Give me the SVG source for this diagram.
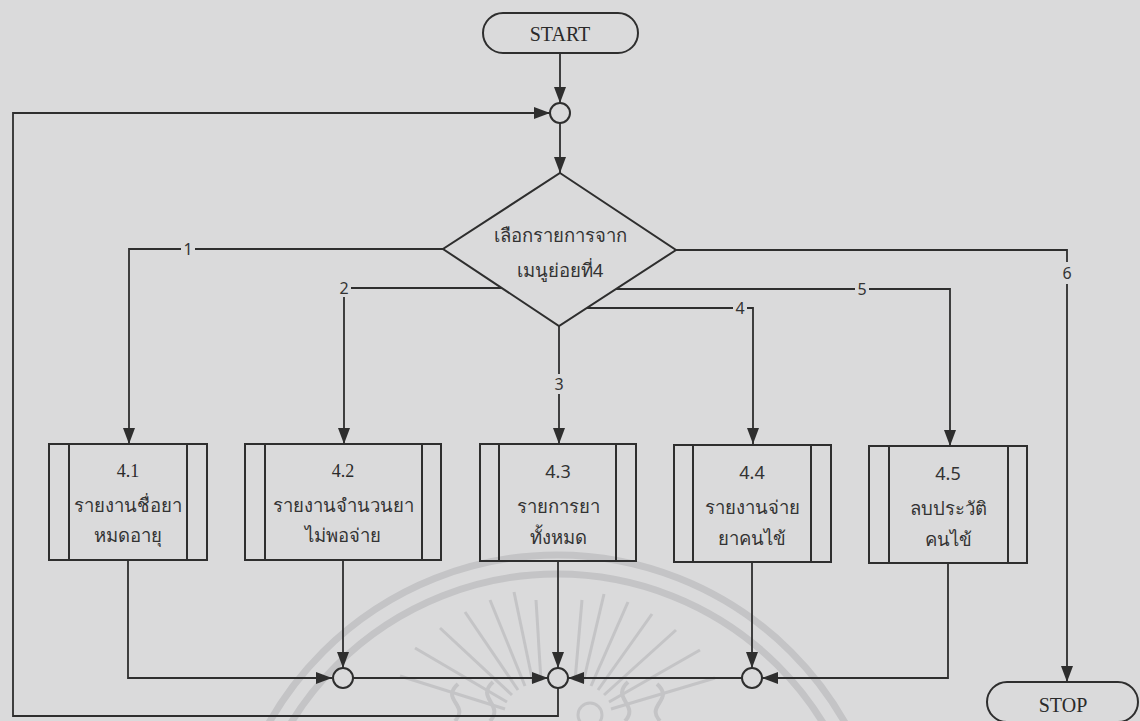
<svg xmlns="http://www.w3.org/2000/svg" width="1140" height="721" viewBox="0 0 1140 721">
  <style>
    .bg { fill: #dadadb; }
    .ln { fill: none; stroke: #2e2e2e; stroke-width: 1.8; }
    .shape { fill: none; stroke: #2e2e2e; stroke-width: 2; }
    .serif { font-family: "Liberation Serif", "Times New Roman", serif; fill: #2a2a2a; }
    .sans { font-family: "Noto Sans", "DejaVu Sans", sans-serif; fill: #333333; }
    .th { font-size: 18.5px; text-anchor: middle; }
    .num { font-size: 18px; text-anchor: middle; }
    .lbl { font-size: 16px; text-anchor: middle; }
    .wm { fill: none; stroke: #c4c4c6; }
  </style>
  <defs>
    <marker id="arrow" markerUnits="userSpaceOnUse" markerWidth="16" markerHeight="12" refX="16" refY="6" orient="auto">
      <path d="M0,0 L16,6 L0,12 z" fill="#2e2e2e"/>
    </marker>
  </defs>

  <rect class="bg" x="0" y="0" width="1140" height="721"/>

  <!-- faint seal in the background -->
  <g id="watermark">
    <circle class="wm" cx="557" cy="886" r="331" stroke-width="7"/>
    <circle class="wm" cx="557" cy="886" r="312" stroke-width="7"/>
    <g stroke-width="3">
      <line class="wm" x1="505" y1="709" x2="400" y2="676"/>
      <line class="wm" x1="507" y1="702" x2="415" y2="648"/>
      <line class="wm" x1="512" y1="695" x2="440" y2="628"/>
      <line class="wm" x1="518" y1="690" x2="465" y2="612"/>
      <line class="wm" x1="525" y1="686" x2="490" y2="600"/>
      <line class="wm" x1="533" y1="683" x2="514" y2="592"/>
      <line class="wm" x1="541" y1="681" x2="536" y2="600"/>
      <line class="wm" x1="575" y1="681" x2="582" y2="600"/>
      <line class="wm" x1="583" y1="683" x2="604" y2="594"/>
      <line class="wm" x1="591" y1="686" x2="628" y2="602"/>
      <line class="wm" x1="598" y1="690" x2="652" y2="614"/>
      <line class="wm" x1="604" y1="695" x2="676" y2="630"/>
      <line class="wm" x1="609" y1="702" x2="700" y2="650"/>
      <line class="wm" x1="611" y1="709" x2="715" y2="678"/>
      <path class="wm" d="M455,721 C470,705 440,700 458,684 M490,721 C505,705 475,698 493,682" stroke-width="4"/>
      <path class="wm" d="M660,721 C645,705 675,700 657,684 M625,721 C640,705 610,698 628,682" stroke-width="4"/>
      <circle class="wm" cx="590" cy="715" r="12"/>
    </g>
  </g>

  <!-- connectors -->
  <g id="connectors">
    <line class="ln" x1="560" y1="53" x2="560" y2="103" marker-end="url(#arrow)"/>
    <line class="ln" x1="560" y1="123" x2="560" y2="173" marker-end="url(#arrow)"/>

    <polyline class="ln" points="443,249 129,249 129,444" marker-end="url(#arrow)"/>
    <polyline class="ln" points="502,288 344,288 344,444" marker-end="url(#arrow)"/>
    <line class="ln" x1="559" y1="326" x2="559" y2="444" marker-end="url(#arrow)"/>
    <polyline class="ln" points="587,308 753,308 753,444" marker-end="url(#arrow)"/>
    <polyline class="ln" points="616,289 950,289 950,446" marker-end="url(#arrow)"/>
    <polyline class="ln" points="676,250 1067,250 1067,682" marker-end="url(#arrow)"/>

    <polyline class="ln" points="128,560 128,678 332,678" marker-end="url(#arrow)"/>
    <line class="ln" x1="343" y1="560" x2="343" y2="668" marker-end="url(#arrow)"/>
    <line class="ln" x1="353" y1="678" x2="548" y2="678" marker-end="url(#arrow)"/>
    <line class="ln" x1="558" y1="561" x2="558" y2="668" marker-end="url(#arrow)"/>
    <line class="ln" x1="752" y1="561" x2="752" y2="668" marker-end="url(#arrow)"/>
    <line class="ln" x1="742" y1="678" x2="568" y2="678" marker-end="url(#arrow)"/>
    <polyline class="ln" points="948,562 948,678 762,678" marker-end="url(#arrow)"/>
    <polyline class="ln" points="558,688 558,716 13,716 13,113 550,113" marker-end="url(#arrow)"/>

    <!-- branch labels -->
    <rect class="bg" x="181" y="240" width="14" height="18"/>
    <text class="sans lbl" x="188" y="255">1</text>
    <rect class="bg" x="337" y="279" width="14" height="18"/>
    <text class="sans lbl" x="344" y="294">2</text>
    <rect class="bg" x="552" y="374" width="14" height="20"/>
    <text class="sans lbl" x="559" y="390">3</text>
    <rect class="bg" x="733" y="299" width="14" height="18"/>
    <text class="sans lbl" x="740" y="314">4</text>
    <rect class="bg" x="855" y="280" width="14" height="18"/>
    <text class="sans lbl" x="862" y="295">5</text>
    <rect class="bg" x="1060" y="262" width="14" height="22"/>
    <text class="sans lbl" x="1067" y="279">6</text>
  </g>

  <!-- start / stop -->
  <g id="start">
    <rect class="shape" x="483" y="13" width="155" height="40" rx="20"/>
    <text class="serif" x="560" y="41" font-size="20" text-anchor="middle">START</text>
  </g>
  <g id="stop">
    <rect class="shape" x="987" y="682" width="151" height="40" rx="20"/>
    <text class="serif" x="1063" y="712" font-size="20" text-anchor="middle">STOP</text>
  </g>

  <!-- junctions -->
  <g id="junction-top"><circle class="shape" cx="560" cy="113" r="10"/></g>
  <g id="junction-a"><circle class="shape" cx="343" cy="678" r="10"/></g>
  <g id="junction-b"><circle class="shape" cx="558" cy="678" r="10"/></g>
  <g id="junction-c"><circle class="shape" cx="752" cy="678" r="10"/></g>

  <!-- decision -->
  <g id="decision">
    <polygon class="shape" points="560,173 676,250 559,326 443,249"/>
    <text class="sans th" x="560" y="242">เลือกรายการจาก</text>
    <text class="sans th" x="560" y="277">เมนูย่อยที่4</text>
  </g>

  <!-- sub-processes -->
  <g id="p41">
    <rect class="shape" x="49" y="444" width="158" height="116"/>
    <line class="shape" x1="69" y1="444" x2="69" y2="560"/>
    <line class="shape" x1="187" y1="444" x2="187" y2="560"/>
    <text class="serif num" x="128" y="477">4.1</text>
    <text class="sans th" x="128" y="512">รายงานชื่อยา</text>
    <text class="sans th" x="128" y="542">หมดอายุ</text>
  </g>
  <g id="p42">
    <rect class="shape" x="245" y="444" width="196" height="116"/>
    <line class="shape" x1="265" y1="444" x2="265" y2="560"/>
    <line class="shape" x1="422" y1="444" x2="422" y2="560"/>
    <text class="serif num" x="343" y="477">4.2</text>
    <text class="sans th" x="343" y="512">รายงานจำนวนยา</text>
    <text class="sans th" x="343" y="542">ไม่พอจ่าย</text>
  </g>
  <g id="p43">
    <rect class="shape" x="480" y="444" width="156" height="117"/>
    <line class="shape" x1="499" y1="444" x2="499" y2="561"/>
    <line class="shape" x1="616" y1="444" x2="616" y2="561"/>
    <text class="sans num" x="558" y="478">4.3</text>
    <text class="sans th" x="558" y="513">รายการยา</text>
    <text class="sans th" x="558" y="544">ทั้งหมด</text>
  </g>
  <g id="p44">
    <rect class="shape" x="674" y="445" width="157" height="117"/>
    <line class="shape" x1="693" y1="445" x2="693" y2="562"/>
    <line class="shape" x1="811" y1="445" x2="811" y2="562"/>
    <text class="sans num" x="752" y="479">4.4</text>
    <text class="sans th" x="752" y="514">รายงานจ่าย</text>
    <text class="sans th" x="752" y="545">ยาคนไข้</text>
  </g>
  <g id="p45">
    <rect class="shape" x="869" y="446" width="158" height="117"/>
    <line class="shape" x1="889" y1="446" x2="889" y2="563"/>
    <line class="shape" x1="1008" y1="446" x2="1008" y2="563"/>
    <text class="sans num" x="948" y="480">4.5</text>
    <text class="sans th" x="948" y="515">ลบประวัติ</text>
    <text class="sans th" x="948" y="546">คนไข้</text>
  </g>
</svg>
